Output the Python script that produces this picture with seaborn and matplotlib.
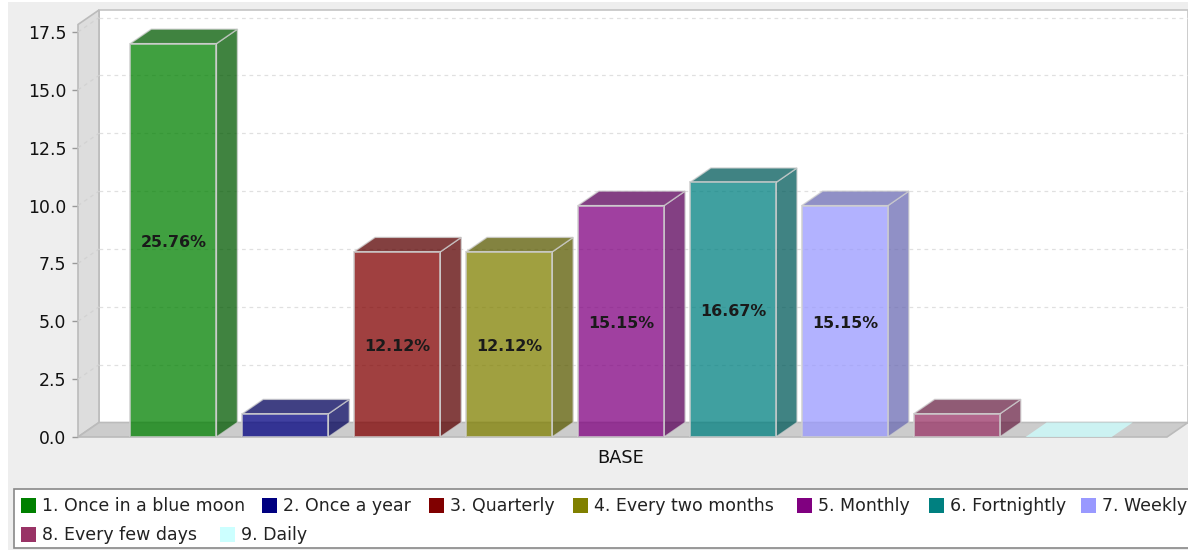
import pandas as pd
import matplotlib
matplotlib.use("Agg")
import matplotlib.pyplot as plt
from matplotlib.patches import Polygon, Rectangle
from matplotlib.ticker import MultipleLocator
import seaborn as sns

series = ['1. Once in a blue moon', '2. Once a year', '3. Quarterly', '4. Every two months',
          '5. Monthly', '6. Fortnightly', '7. Weekly', '8. Every few days', '9. Daily']
values = [17, 1, 8, 8, 10, 11, 10, 1, 0]
percents = ['25.76%', '', '12.12%', '12.12%', '15.15%', '16.67%', '15.15%', '', '']
colors = ['#008000', '#000080', '#800000', '#808000', '#800080', '#008080', '#9999FF', '#993366', '#CCFFFF']

W, H = 1188, 550
df = pd.DataFrame({'group': ['BASE'] * len(series), 'series': series, 'value': values})

sns.set_style("white")
plt.rcParams['font.family'] = ['DejaVu Sans']
fig = plt.figure(figsize=(W / 100, H / 100), dpi=100, facecolor='white')

def px(x, y):
    return x / W, 1 - y / H

# grey panel behind the plot
fig.patches.append(Rectangle(px(8, H), (W - 8) / W, (H - 2) / H, transform=fig.transFigure,
                             facecolor='#EEEEEE', edgecolor='none', zorder=-5))

ax = fig.add_axes([78 / W, 1 - 437 / H, (W - 78) / W, 427 / H])
ax.set_facecolor('none')
sns.barplot(data=df, x='group', y='value', hue='series', hue_order=series, palette=colors,
            saturation=1, alpha=0.75, gap=0.23, edgecolor='#CFCFCF', linewidth=1.4,
            legend=False, zorder=4, ax=ax)

# pixel scale of the axes
sx = 1259.0
sy = 23.14
ax.set_xlim((78 - 621) / sx, (1188 - 621) / sx)
ax.set_ylim(0, 427 / sy)
dx = 21 / sx
dy = 14.5 / sy
left, right = ax.get_xlim()
top = ax.get_ylim()[1]

# walls and floor
ax.add_patch(Polygon([(left + dx, dy), (right, dy), (right, top), (left + dx, top)], closed=True,
                     facecolor='white', edgecolor='#C4C4C4', lw=1.2, zorder=1, clip_on=False))
ax.add_patch(Polygon([(left, 0), (left + dx, dy), (left + dx, top), (left, top - dy)], closed=True,
                     facecolor='#DDDDDD', edgecolor='#BBBBBB', lw=1.2, zorder=1.1, clip_on=False))
ax.add_patch(Polygon([(left, 0), (right - dx, 0), (right, dy), (left + dx, dy)], closed=True,
                     facecolor='#CCCCCC', edgecolor='#BBBBBB', lw=1.2, zorder=1.1, clip_on=False))

ax.yaxis.set_major_locator(MultipleLocator(2.5))
for v in ax.get_yticks():
    if 0 < v <= 17.5:
        ax.plot([left + dx, right], [v + dy, v + dy], color='#E0E0E0', lw=0.9, ls=(0, (3, 3)), zorder=1.5)
        ax.plot([left, left + dx], [v, v + dy], color='#D2D2D2', lw=0.9, ls=(0, (3, 3)), zorder=1.5)

# 3d sides and tops of the bars
for cont, col, pct in zip(ax.containers, colors, percents):
    bar = cont.patches[0]
    x0, x1 = bar.get_x(), bar.get_x() + bar.get_width()
    h = bar.get_height()
    rgb = matplotlib.colors.to_rgb(col)
    dark = tuple(c * 0.7 for c in rgb)
    if h == 0:
        bar.set_visible(False)
        ax.add_patch(Polygon([(x0, 0), (x1, 0), (x1 + dx, dy), (x0 + dx, dy)], closed=True,
                             facecolor=col, alpha=0.75, edgecolor='none', zorder=3))
        continue
    ax.add_patch(Polygon([(x1, 0), (x1 + dx, dy), (x1 + dx, h + dy), (x1, h)], closed=True,
                         facecolor=dark, alpha=0.75, edgecolor='#CFCFCF', lw=1, zorder=3))
    ax.add_patch(Polygon([(x0, h), (x1, h), (x1 + dx, h + dy), (x0 + dx, h + dy)], closed=True,
                         facecolor=dark, alpha=0.75, edgecolor='#CFCFCF', lw=1, zorder=3))
    ax.bar_label(cont, labels=[pct], label_type='center', fontsize=11.4, fontweight='bold',
                 color='#1A1A1A', zorder=6, padding=-1.6)

sns.despine(ax=ax, left=True, bottom=True, right=True, top=True)
ax.set_xlabel('')
ax.set_ylabel('')
ax.set_yticks([0, 2.5, 5, 7.5, 10, 12.5, 15, 17.5])
ax.set_yticklabels(['0.0', '2.5', '5.0', '7.5', '10.0', '12.5', '15.0', '17.5'])
ax.tick_params(axis='y', length=4.5, width=1, color='#999999', labelsize=12.4, pad=4, labelcolor='#111111', left=True)
ax.tick_params(axis='x', length=0, labelsize=12.8, pad=8.5, labelcolor='#111111')

# legend box, laid out row by row like the original
leg_x = [21, 262, 429, 573, 797, 929, 1081, 21, 220]
leg_y = [505, 505, 505, 505, 505, 505, 505, 534, 534]
fig.patches.append(Rectangle(px(14, 548), (W - 14 + 5) / W, 59 / H, transform=fig.transFigure,
                             facecolor='white', edgecolor='#888888', lw=1.2, zorder=-4))
for name, col, lx, ly in zip(series, colors, leg_x, leg_y):
    fig.patches.append(Rectangle(px(lx, ly + 7.5), 15 / W, 15 / H, transform=fig.transFigure,
                                 facecolor=col, edgecolor='none', zorder=-3))
    tx, ty = px(lx + 21, ly + 1)
    fig.text(tx, ty, name, fontsize=12.5, va='center', ha='left', color='#222222')

fig.savefig("out.png", dpi=100, facecolor=fig.get_facecolor())
